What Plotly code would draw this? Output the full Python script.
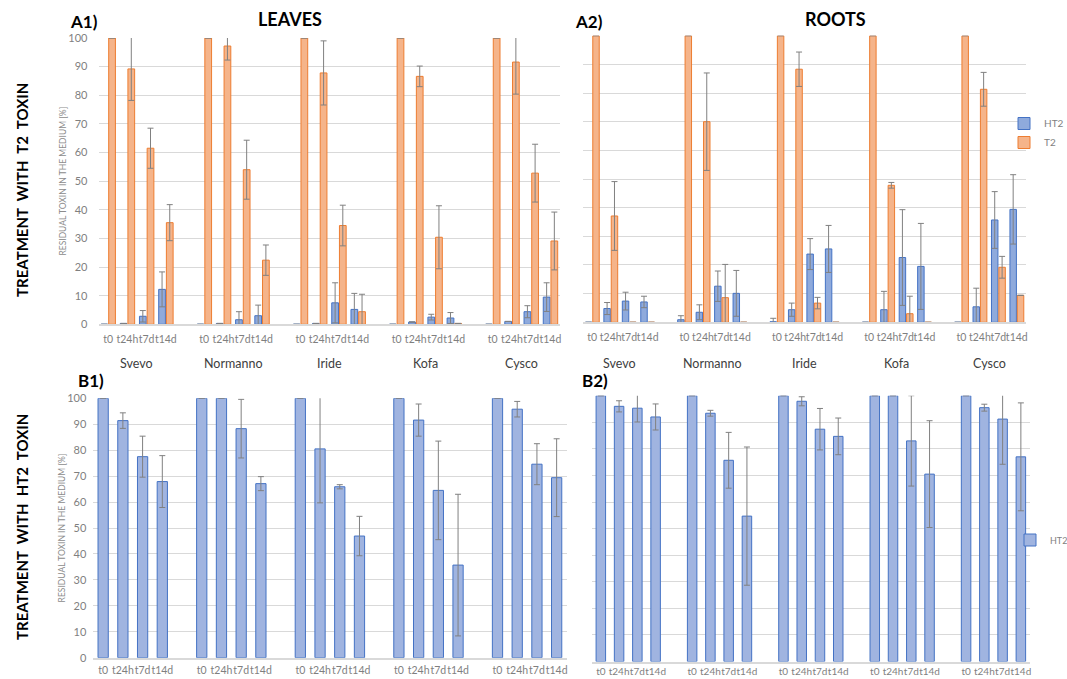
import plotly.graph_objects as go

W, H = 1067, 679

cultivars = ["Svevo", "Normanno", "Iride", "Kofa", "Cysco"]
times = ["t0", "t24h", "t7d", "t14d"]

# A1) LEAVES, treatment with T2 toxin
a1_ht2 = [0, 0.3, 2.8, 12.2, 0, 0.3, 1.6, 3.0, 0, 0.3, 7.5, 5.2, 0, 0.8, 2.5, 2.2, 0, 1.0, 4.4, 9.5]
a1_ht2_err = [0, 0, 2.0, 6.1, 0, 0, 2.8, 3.7, 0, 0, 7.0, 5.6, 0, 0, 1.0, 1.9, 0, 0, 2.1, 5.0]
a1_t2 = [100, 89.2, 61.5, 35.5, 100, 97.2, 54.0, 22.4, 100, 87.8, 34.5, 4.4, 100, 86.6, 30.4, 0.3, 100, 91.6, 52.8, 29.1]
a1_t2_err = [0, 11.0, 7.0, 6.3, 0, 4.9, 10.3, 5.3, 0, 11.2, 7.1, 6.1, 0, 3.6, 11.0, 0, 0, 11.2, 10.1, 10.1]

# A2) ROOTS, treatment with T2 toxin
a2_ht2 = [0, 4.8, 7.4, 7.1, 0.9, 3.5, 12.6, 10.1, 0.2, 4.4, 23.8, 25.6, 0, 4.4, 22.6, 19.5, 0, 5.4, 35.7, 39.4]
a2_ht2_err = [0, 2.1, 3.1, 2.0, 1.4, 2.6, 5.3, 8.0, 1.2, 2.3, 5.4, 8.2, 0, 6.4, 16.7, 15.0, 0, 6.5, 9.9, 12.1]
a2_t2 = [100, 37.1, 0, 0, 100, 70.0, 8.6, 0, 100, 88.3, 6.7, 0, 100, 47.8, 3.0, 0, 100, 81.3, 19.2, 9.4]
a2_t2_err = [0, 12.0, 0, 0, 0, 17.0, 11.6, 0, 0, 6.0, 2.0, 0, 0, 1.0, 6.1, 0, 0, 5.9, 3.8, 0]

# B1) LEAVES, treatment with HT2 toxin
b1_ht2 = [100, 91.4, 77.5, 67.9, 100, 100, 88.3, 67.1, 100, 80.5, 65.9, 46.9, 100, 91.6, 64.5, 35.7, 100, 95.8, 74.6, 69.4]
b1_ht2_err = [0, 3.0, 7.9, 10.0, 0, 0, 11.3, 2.7, 0, 20.8, 0.8, 7.6, 0, 6.2, 19.0, 27.3, 0, 3.0, 7.9, 15.0]

# B2) ROOTS, treatment with HT2 toxin
b2_ht2 = [100, 96.0, 95.3, 92.0, 100, 93.4, 75.7, 54.7, 100, 97.9, 87.4, 84.7, 100, 100, 83.0, 70.5, 100, 95.5, 91.2, 77.0]
b2_ht2_err = [0, 2.1, 5.2, 4.9, 0, 1.1, 10.5, 26.0, 0, 1.7, 7.8, 6.9, 0, 0, 17.0, 20.1, 0, 1.3, 17.0, 20.3]

# category positions: 4 time points per cultivar + one empty slot between cultivars
xpos = [i * 5 + j for i in range(len(cultivars)) for j in range(len(times))]
ticktext = times * len(cultivars)

ORANGE_FILL, ORANGE_LINE = "#F5B48A", "#ED7D31"
BLUE_FILL, BLUE_LINE = "#8FAADC", "#4472C4"
BBLUE_FILL = "#A0B4E0"
ERR = "#808080"
GRID = "#D9D9D9"
FONT = "Lato"


def err(vals):
    return dict(type="data", array=vals, color=ERR, thickness=1, width=3, visible=True)


fig = go.Figure()

def add_pair(xa, ya, ht2, ht2e, t2, t2e, legend):
    fig.add_trace(go.Bar(x=xpos, y=ht2, error_y=err(ht2e), name="HT2", xaxis=xa, yaxis=ya,
                         width=0.35, offset=-0.37,
                         marker=dict(color=BLUE_FILL, line=dict(color=BLUE_LINE, width=1)),
                         showlegend=legend, legend="legend"))
    fig.add_trace(go.Bar(x=xpos, y=t2, error_y=err(t2e), name="T2", xaxis=xa, yaxis=ya,
                         width=0.35, offset=0.03,
                         marker=dict(color=ORANGE_FILL, line=dict(color=ORANGE_LINE, width=1)),
                         showlegend=legend, legend="legend"))

add_pair("x", "y", a1_ht2, a1_ht2_err, a1_t2, a1_t2_err, False)
add_pair("x2", "y2", a2_ht2, a2_ht2_err, a2_t2, a2_t2_err, True)

fig.add_trace(go.Bar(x=xpos, y=b1_ht2, error_y=err(b1_ht2_err), name="HT2", xaxis="x3", yaxis="y3",
                     width=0.52, offset=-0.26,
                     marker=dict(color=BBLUE_FILL, line=dict(color=BLUE_LINE, width=1)),
                     showlegend=False))
fig.add_trace(go.Bar(x=xpos, y=b2_ht2, error_y=err(b2_ht2_err), name="HT2", xaxis="x4", yaxis="y4",
                     width=0.52, offset=-0.26,
                     marker=dict(color=BBLUE_FILL, line=dict(color=BLUE_LINE, width=1)),
                     showlegend=True, legend="legend2"))


def px_x(a, b):
    return [a / W, b / W]


def px_y(top, bottom):
    return [1 - bottom / H, 1 - top / H]


panels = {
    "": (px_x(98.5, 560), px_y(38, 324.3), True, 10, 4),
    "2": (px_x(583, 1026), px_y(35.7, 322.3), False, 0, 4),
    "3": (px_x(93.3, 566.5), px_y(398.3, 657.7), True, 6, 2),
    "4": (px_x(591.7, 1030), px_y(395.7, 661.5), False, 0, 0),
}

layout = {}
for k, (dx, dy, labels, ystand, xstand) in panels.items():
    layout["xaxis" + k] = dict(domain=dx, range=[-0.5, 23.5], anchor="y" + k,
                               tickvals=xpos, ticktext=ticktext, tickangle=0,
                               tickfont=dict(size=10.5 if xstand else 10, color="#7F7F7F"),
                               ticklabelstandoff=xstand,
                               showgrid=False, zeroline=False, showline=True,
                               linecolor=GRID, linewidth=1.5, ticks="", fixedrange=True,
                               layer="above traces", automargin=False)
    yax = dict(domain=dy, range=[0, 100], dtick=10, anchor="x" + k,
               showgrid=True, gridcolor=GRID, gridwidth=1, zeroline=False,
               showline=False, ticks="", showticklabels=labels, automargin=False,
               ticklabelstandoff=ystand,
               tickfont=dict(size=11, color="#7F7F7F"), fixedrange=True)
    if labels:
        yax["title"] = dict(text="RESIDUAL TOXIN IN THE MEDIUM [%]",
                            font=dict(size=8.5, color="#8C8C8C"), standoff=0)
    layout["yaxis" + k] = yax

fig.update_layout(**layout)

ann = []
def txt(x, y, s, size, bold=True, color="black", angle=0, xanchor="center"):
    ann.append(dict(x=x / W, y=1 - y / H, xref="paper", yref="paper", text=(f"<b>{s}</b>" if bold else s),
                    showarrow=False, font=dict(size=size, color=color, family=FONT),
                    textangle=angle, xanchor=xanchor, yanchor="middle"))

txt(68, 21, "A1)", 17, xanchor="left")
txt(290, 19, "LEAVES", 18)
txt(573, 21, "A2)", 17, xanchor="left")
txt(835, 19, "ROOTS", 18)
txt(76, 380, "B1)", 17, xanchor="left")
txt(580, 380, "B2)", 17, xanchor="left")
txt(22, 190, "TREATMENT  WITH  T2  TOXIN", 15, angle=-90)
txt(22, 527, "TREATMENT  WITH  HT2  TOXIN", 15, angle=-90)

# cultivar names under the top panels
for xa, ya_px in (("x", 363), ("x2", 363)):
    for i, c in enumerate(cultivars):
        ann.append(dict(x=i * 5 + 1.5, y=1 - ya_px / H, xref=xa, yref="paper", text=c,
                        showarrow=False, font=dict(size=12.5, color="#404040", family=FONT),
                        xanchor="center", yanchor="middle"))

fig.update_layout(
    annotations=ann,
    width=W, height=H,
    margin=dict(l=0, r=0, t=0, b=0, autoexpand=False),
    paper_bgcolor="white", plot_bgcolor="white",
    font=dict(family=FONT),
    barmode="overlay",
    legend=dict(x=1004 / W, y=1 - 109 / H, xanchor="left", yanchor="top",
                font=dict(size=10, color="#7F7F7F"), bgcolor="rgba(0,0,0,0)",
                itemwidth=30, tracegroupgap=4),
    legend2=dict(x=1010 / W, y=1 - 540 / H, xanchor="left", yanchor="middle",
                 font=dict(size=9, color="#7F7F7F"), bgcolor="rgba(0,0,0,0)",
                 itemwidth=30),
)

fig.write_html("out.html", config={"displayModeBar": False},
               post_script="document.body.style.margin='0';document.body.style.overflow='hidden';")
